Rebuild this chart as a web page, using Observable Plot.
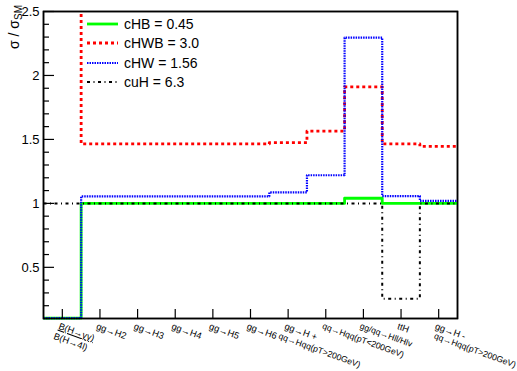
<!DOCTYPE html>
<html><head><meta charset="utf-8">
<script src="https://cdn.jsdelivr.net/npm/d3@7"></script>
<script src="https://cdn.jsdelivr.net/npm/@observablehq/plot@0.6"></script>
<style>
body{margin:0;background:#fff;font-family:"Liberation Sans",Arial,sans-serif;}
#wrap{position:relative;width:517px;height:371px;overflow:hidden;}
#legend{position:absolute;left:87px;top:14.5px;font-size:14px;color:#000;}
#legend .row{display:flex;align-items:center;height:19.3px;}
#legend .row span{margin-left:6px;}
</style></head><body><div id="wrap"></div>
<script>
// ---- data ----
const categoryLine1 = ["B(H→γγ)","gg→H2","gg→H3","gg→H4","gg→H5","gg→H6","gg→H +","qq→Hqq(pT<200GeV)","gg/qq→Hll/Hlv","ttH","gg→H -"];
const categoryLine2 = ["B(H→4l)","","","","","","qq→Hqq(pT>200GeV)","","","","qq→Hqq(pT>200GeV)"];
const cHB  = [0.103, 1.0, 1.0, 1.0, 1.0, 1.0, 1.0, 1.0, 1.04, 1.0, 1.0];
const cHWB = [3.5, 1.465, 1.465, 1.465, 1.465, 1.465, 1.475, 1.565, 1.91, 1.465, 1.445];
const cHW  = [0.103, 1.055, 1.055, 1.055, 1.055, 1.055, 1.086, 1.22, 2.295, 1.057, 1.02];
const cuH  = [1.0, 1.0, 1.0, 1.0, 1.0, 1.0, 1.0, 1.0, 1.0, 0.255, 1.0];
const seriesNames = ["cHB = 0.45", "cHWB = 3.0", "cHW = 1.56", "cuH = 6.3"];
const yMajorTicks = [0.5, 1, 1.5, 2, 2.5];

// ---- styles ----
const styles = [
  {stroke: "#00ff00", strokeWidth: 2.8, dash: null},
  {stroke: "#ff0000", strokeWidth: 2.8, dash: "3,3"},
  {stroke: "#0000ff", strokeWidth: 2.2, dash: "1.5,1"},
  {stroke: "#000000", strokeWidth: 2, dash: "3,3.5,1,3.5"}
];
const line2Shift = [-5, 0, 0, 0, 0, 0, -6, 0, 0, 0, -1]; // horizontal shift (px) of second label lines
const seriesValues = [cHB, cHWB, cHW, cuH];

const steps = vals => [...vals.map((v, i) => ({x: i, y: v})), {x: vals.length, y: vals[vals.length - 1]}];
const nCat = categoryLine1.length;
const xCenters = categoryLine1.map((_, i) => i + 0.5);
const yMinorTicks = d3.range(1, 25).map(k => k / 10).filter(v => !yMajorTicks.some(m => Math.abs(m - v) < 1e-9));

const labelOpts = {frameAnchor: "bottom", rotate: 20, textAnchor: "start", lineAnchor: "top", fontSize: d => d.length > 12 ? 8.6 : 9.2, fill: "#000"};

const chart = Plot.plot({
  width: 517, height: 371,
  marginLeft: 43, marginRight: 60, marginTop: 11, marginBottom: 53,
  x: {domain: [0, nCat]},
  y: {domain: [0.1, 2.5]},
  style: {fontFamily: "'Liberation Sans', Arial, sans-serif", background: "#fff", color: "#000", overflow: "visible"},
  marks: [
    Plot.frame({stroke: "#000", strokeWidth: 1.5}),
    ...seriesValues.map((vals, k) => Plot.line(steps(vals), {
      x: "x", y: "y", curve: "step-after", clip: k === 1,
      stroke: styles[k].stroke, strokeWidth: styles[k].strokeWidth,
      strokeDasharray: styles[k].dash, strokeLinecap: "butt"
    })),
    Plot.axisY(yMajorTicks, {tickSize: -11, fill: "none", label: null, strokeWidth: 1.2}),
    Plot.axisY(yMinorTicks, {tickSize: -6, fill: "none", label: null, strokeWidth: 1.2}),
    Plot.axisY(yMajorTicks, {tickSize: 0, tickPadding: 4, fontSize: 13, tickFormat: d => String(d), label: null}),
    Plot.axisX(xCenters, {tickSize: -9, fill: "none", label: null, strokeWidth: 1.2}),
    Plot.text(categoryLine1, {...labelOpts, x: (d, i) => i + 0.5, dx: -2, dy: 4, className: "xlab1"}),
    ...categoryLine2.map((t, i) => t ? Plot.text([t], {...labelOpts, x: () => i + 0.5, dx: -2 + line2Shift[i], dy: 14}) : null).filter(Boolean)
  ]
});

const wrap = document.getElementById("wrap");
wrap.appendChild(chart);

const svg = d3.select(chart);
// redraw frame on top of the series
const fr = svg.select("[aria-label='frame']").node();
if (fr) svg.node().appendChild(fr.cloneNode(true));

// y-axis title with subscript
const yl = svg.append("text")
  .attr("transform", "translate(19,5) rotate(-90)")
  .attr("text-anchor", "end")
  .attr("font-size", 14)
  .attr("fill", "#000");
yl.append("tspan").text("σ / σ");
yl.append("tspan").attr("font-size", 10).attr("dy", 3).text("SM");

// fraction bar for the first category label
svg.select(".xlab1 text").style("text-decoration", "underline");

// legend
const legend = document.createElement("div");
legend.id = "legend";
seriesNames.forEach((name, k) => {
  const row = document.createElement("div");
  row.className = "row";
  const st = styles[k];
  row.innerHTML = `<svg width="31" height="8"><line x1="0" x2="31" y1="4" y2="4" stroke="${st.stroke}" stroke-width="${st.strokeWidth}" ${st.dash ? `stroke-dasharray="${st.dash}"` : ""}/></svg><span>${name}</span>`;
  legend.appendChild(row);
});
wrap.appendChild(legend);
</script>
</body></html>
